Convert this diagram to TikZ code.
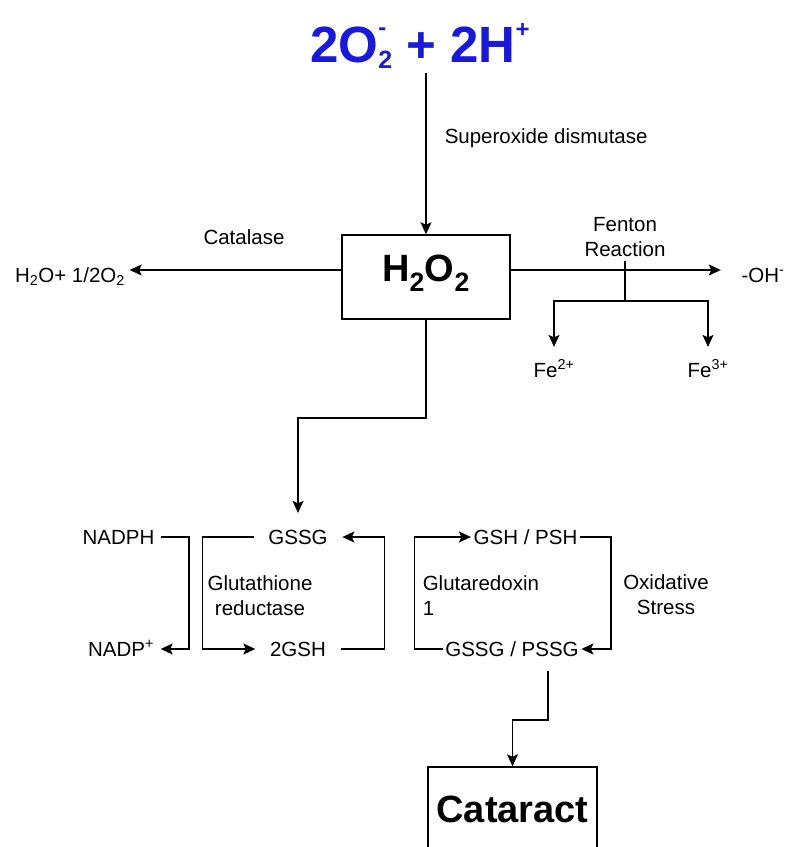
\documentclass[tikz,border=0pt]{standalone}
\usepackage{fontspec}
\setmainfont{Liberation Sans}
\usetikzlibrary{arrows.meta}

\definecolor{sodblue}{RGB}{24,24,222}

\begin{document}
\begin{tikzpicture}[x=1pt,y=-1pt,line width=1.5pt,
    every node/.style={font=\fontsize{20.5}{25}\selectfont,inner sep=4pt},
    arr/.style={-{Stealth[length=12pt,width=11pt,inset=2.5pt]}},
    chem/.style={text height=14.7pt,text depth=0pt},
    bigbox/.style={draw,minimum width=168pt,minimum height=84pt,font=\fontsize{38}{44}\selectfont\bfseries}]

    \useasboundingbox (0,0) rectangle (786,847);

    % superoxide to peroxide
    \node[anchor=base,text=sodblue,font=\fontsize{51}{58}\selectfont\bfseries,
        text height=37pt,text depth=6pt] (sod) at (420,62)
        {2O\rlap{\raisebox{0.52em}{\fontsize{24}{24}\selectfont -}}\raisebox{-0.12em}{\fontsize{25}{25}\selectfont 2}
        + 2H\raisebox{0.48em}{\fontsize{24}{24}\selectfont +}};
    \node[bigbox,text height=28pt,text depth=20pt] (h2o2) at (426,277) {H\textsubscript{2}O\textsubscript{2}};
    \node[anchor=west] (sodtxt) at (440,138) {Superoxide dismutase};

    % catalase and fenton
    \node (catalase) at (244,237) {Catalase};
    \node[chem] (water) at (70,275) {H\textsubscript{2}O+ 1/2O\textsubscript{2}};
    \node[chem,inner xsep=20pt] (oh) at (763,275) {-OH\textsuperscript{-}};
    \node[align=center] (fenton) at (625,237) {Fenton\\Reaction};
    \coordinate (split) at (625,301);
    \node[chem] (fe2) at (554,370) {Fe\textsuperscript{2+}};
    \node[chem] (fe3) at (708,370) {Fe\textsuperscript{3+}};

    % glutathione cycles
    \node[chem,inner xsep=6pt] (nadph) at (118.5,537) {NADPH};
    \node[chem,inner xsep=6pt] (nadp) at (121,649) {NADP\textsuperscript{+}};
    \node[chem,inner xsep=14pt] (gssg) at (298,537) {GSSG};
    \node[chem,inner xsep=14pt] (gsh2) at (298,649) {2GSH};
    \node[align=center] (gr) at (260,596) {Glutathione\\reductase};
    \node[chem,inner xsep=2pt] (gshpsh) at (525.5,537) {GSH / PSH};
    \node[chem,inner xsep=2pt] (gssgpssg) at (512,649) {GSSG / PSSG};
    \node[align=left,anchor=west,inner sep=0pt] (grx) at (422,596) {Glutaredoxin\\1};
    \node[align=center] (stress) at (666,595) {Oxidative\\Stress};

    \node[bigbox,minimum width=169pt,text height=27pt,text depth=0pt] (cataract) at (512.5,809) {Cataract};

    \draw[arr] (sod.south -| h2o2.north) -- (h2o2.north);
    \draw[arr] ([yshift=7pt]h2o2.west) -- ([yshift=5pt]water.east);
    \draw[arr] ([yshift=7pt]h2o2.east) -- ([yshift=5pt]oh.west);
    \draw (fenton.south) -- (split);
    \foreach \fe in {fe2,fe3} {
        \draw[arr,shorten >=11pt] (split) -| (\fe.north);
    }
    \draw[arr,shorten >=12pt] (h2o2.south) -- ++(0,98) -| (gssg.north);

    \draw[arr] (nadph.east) -- ++(28,0) |- (nadp.east);
    \draw[arr] (gssg.west) -- ++(-51,0) |- (gsh2.west);
    \draw[arr] (gsh2.east) -- ++(44,0) |- (gssg.east);
    \draw[arr] (gssgpssg.west) -- ++(-28,0) |- (gshpsh.west);
    \draw[arr] (gshpsh.east) -- ++(31,0) |- (gssgpssg.east);
    \draw[arr,shorten <=10pt] ([xshift=36pt]gssgpssg.south) -- ++(0,59) -| (cataract.north);

\end{tikzpicture}
\end{document}
